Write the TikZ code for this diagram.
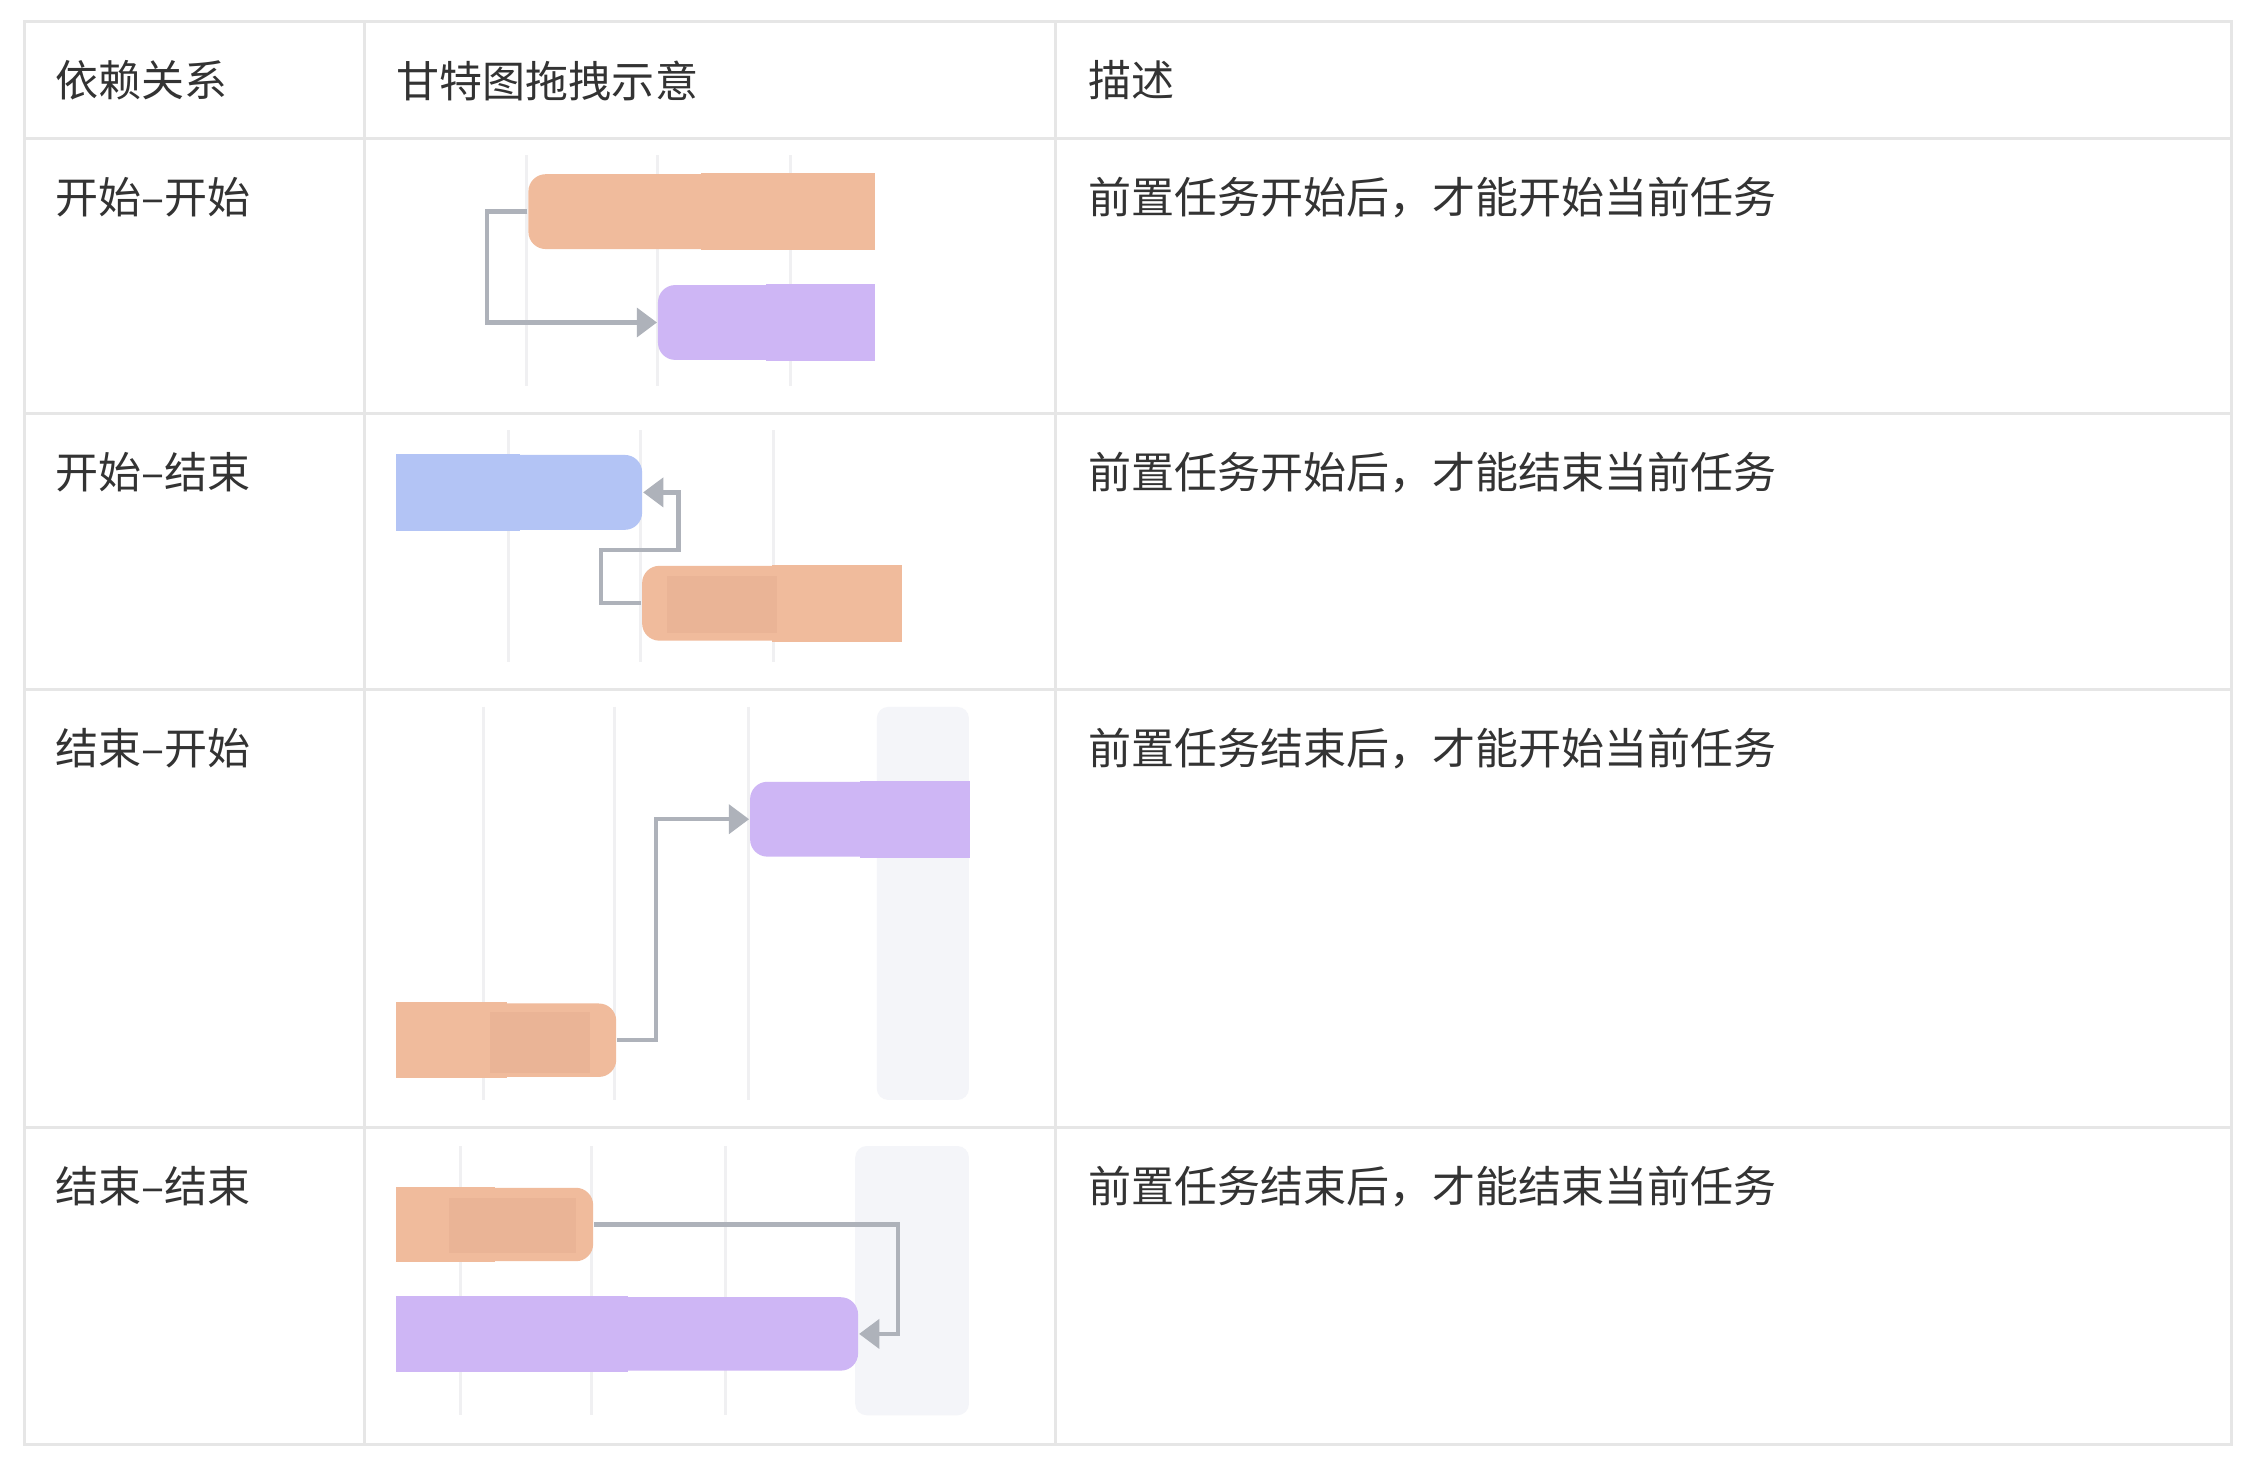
\documentclass[tikz,border=0pt]{standalone}
\usepackage{fontspec}
\setmainfont{Noto Sans CJK SC}
\usetikzlibrary{arrows.meta,positioning,fit}
\definecolor{gtorange}{HTML}{F0BB9C}
\definecolor{gtorangedk}{HTML}{EAB496}
\definecolor{gtpurple}{HTML}{CEB6F5}
\definecolor{gtblue}{HTML}{B3C4F5}
\definecolor{gtlink}{HTML}{AEB2BA}
\definecolor{gtgrid}{HTML}{F0F0F2}
\definecolor{gtpanel}{HTML}{F4F5F9}
\definecolor{tbline}{HTML}{E6E6E6}
\definecolor{tbtext}{HTML}{333333}
\begin{document}
\begin{tikzpicture}[x=0.1mm,y=-0.1mm,
  cell/.style={anchor=west, font=\fontsize{8.5}{10}\selectfont, text=tbtext, inner sep=0},
  bar/.style={inner sep=0, rounded corners=1.2mm},
  link/.style={draw=gtlink, line width=0.85pt, -{Triangle[length=1.4mm,width=2mm]}},
  grid/.style={draw=gtgrid, line width=0.6pt}]
% -- Canvas and table --
\fill[white] (0,0) rectangle (1560,1013);
\useasboundingbox (0,0) rectangle (1560,1013);
\draw[tbline, line width=0.6pt] (17,15) rectangle (1550,1003);
\foreach \ry in {96,287,479,783} {
  \draw[tbline, line width=0.6pt] (17,\ry) -- (1550,\ry);
}
\foreach \cx in {253,733} {
  \draw[tbline, line width=0.6pt] (\cx,15) -- (\cx,1003);
}
% Header
\node[cell] (hdep) at (38,56) {依赖关系};
\node[cell] (hgantt) at (275,56) {甘特图拖拽示意};
\node[cell] (hdesc) at (755,56) {描述};
% Row labels and descriptions
\foreach \ty/\dep/\desc in {137/开始–开始/前置任务开始后，才能开始当前任务,
  328/开始–结束/前置任务开始后，才能结束当前任务,
  520/结束–开始/前置任务结束后，才能开始当前任务,
  824/结束–结束/前置任务结束后，才能结束当前任务} {
  \node[cell] at (38,\ty) {\dep};
  \node[cell] at (755,\ty) {\desc};
}
% -- Gantt: grid lines and panels --
\foreach \gx in {366,457,549} {\draw[grid] (\gx,108) -- (\gx,268);}
\foreach \gx in {353,445,537} {\draw[grid] (\gx,299) -- (\gx,460);}
\fill[gtpanel, rounded corners=0.8mm] (609,491) rectangle (673,764);
\foreach \gx in {336,427,520} {\draw[grid] (\gx,491) -- (\gx,764);}
\fill[gtpanel, rounded corners=0.8mm] (594,796) rectangle (673,983);
\foreach \gx in {320,411,504} {\draw[grid] (\gx,796) -- (\gx,983);}
% -- Row 1: start-start --
\node[bar, fill=gtorange, fit={(367,121) (607,173)}] (o1) {};
\fill[gtorange] (o1.north) rectangle (o1.south east);
\node[bar, fill=gtpurple, fit={(457,198) (607,250)}] (p1) {};
\fill[gtpurple] (p1.north) rectangle (p1.south east);
\draw[link] (o1.west) -- ++(-28,0) |- (p1.west);
% -- Row 2: start-finish --
\node[bar, fill=gtblue, fit={(276,316) (446,368)}] (b2) {};
\fill[gtblue] (b2.north west) rectangle (b2.south);
\node[bar, fill=gtorange, fit={(446,393) (626,445)}] (o2) {};
\fill[gtorange] (o2.north) rectangle (o2.south east);
\fill[gtorangedk] (463,400) rectangle (540,440);
\draw[link] (o2.west) -- ++(-28,0) -- ++(0,-37) -- ++(54,0) |- (b2.east);
% -- Row 3: finish-start --
\node[bar, fill=gtpurple, fit={(521,543) (673,595)}] (p3) {};
\fill[gtpurple] (p3.north) rectangle (p3.south east);
\node[bar, fill=gtorange, fit={(276,697) (428,748)}] (o3) {};
\fill[gtorange] (o3.north west) rectangle (o3.south);
\fill[gtorangedk] (340,703) rectangle (410,745);
\draw[link] (o3.east) -- ++(27,0) |- (p3.west);
% -- Row 4: finish-finish --
\node[bar, fill=gtorange, fit={(276,825) (412,876)}] (o4) {};
\fill[gtorange] (o4.north west) rectangle (o4.south);
\fill[gtorangedk] (312,832) rectangle (400,870);
\node[bar, fill=gtpurple, fit={(276,901) (596,952)}] (p4) {};
\fill[gtpurple] (p4.north west) rectangle (p4.south);
\draw[link] (o4.east) -- ++(211,0) |- (p4.east);
\end{tikzpicture}
\end{document}
